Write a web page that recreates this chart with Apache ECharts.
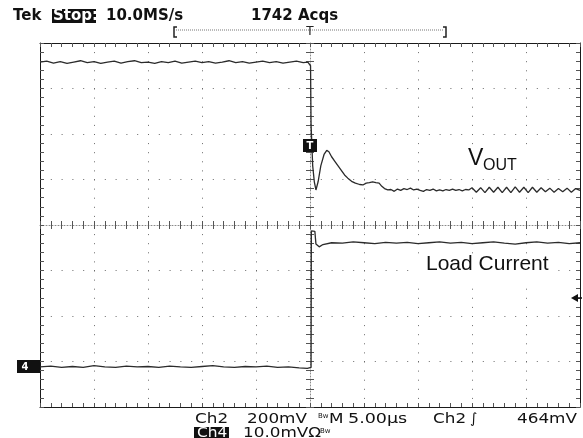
<!DOCTYPE html>
<html>
<head>
<meta charset="utf-8">
<script src="https://cdn.jsdelivr.net/npm/echarts@6.0.0/dist/echarts.min.js"></script>
<style>
    html, body { margin: 0; padding: 0; background: #fff; }
    #scope { width: 583px; height: 438px; }
</style>
</head>
<body>
<div id="scope"></div>
<script>
// time in divisions from trigger (5.00us/div), level in divisions from centre
var timeRange = [-5, 5];
var levelRange = [-4, 4];

// Ch2 : VOUT
var voutPoints = [
    [-5, 3.58], [-4.875, 3.60], [-4.75, 3.56], [-4.625, 3.59], [-4.5, 3.55], [-4.375, 3.58],
    [-4.25, 3.61], [-4.125, 3.57], [-4, 3.59], [-3.875, 3.55], [-3.75, 3.58], [-3.625, 3.60],
    [-3.5, 3.56], [-3.375, 3.59], [-3.25, 3.61], [-3.125, 3.57], [-3, 3.58], [-2.875, 3.55],
    [-2.75, 3.59], [-2.625, 3.57], [-2.5, 3.60], [-2.375, 3.56], [-2.25, 3.58], [-2.125, 3.60],
    [-2, 3.57], [-1.875, 3.59], [-1.75, 3.56], [-1.625, 3.58], [-1.5, 3.61], [-1.375, 3.57],
    [-1.25, 3.59], [-1.125, 3.56], [-1, 3.58], [-0.875, 3.60], [-0.75, 3.57], [-0.625, 3.59],
    [-0.5, 3.56], [-0.375, 3.58], [-0.25, 3.60], [-0.125, 3.57], [-0.04, 3.58],
    [0.01, 3.5], [0.02, 2.2], [0.05, 1.3], [0.08, 0.95], [0.11, 0.77], [0.15, 0.95],
    [0.2, 1.3], [0.26, 1.55], [0.31, 1.64], [0.35, 1.61], [0.4, 1.5], [0.46, 1.4],
    [0.52, 1.3], [0.58, 1.2], [0.64, 1.1], [0.7, 1.03], [0.77, 0.96], [0.84, 0.92],
    [0.92, 0.89], [0.98, 0.88], [1.04, 0.92], [1.1, 0.93], [1.16, 0.95], [1.22, 0.93],
    [1.28, 0.92], [1.33, 0.85], [1.38, 0.8], [1.44, 0.77], [1.5, 0.78], [1.56, 0.74],
    [1.62, 0.79], [1.68, 0.76], [1.74, 0.8], [1.8, 0.78], [1.86, 0.81], [1.92, 0.77],
    [1.98, 0.79], [2.04, 0.76], [2.1, 0.74], [2.16, 0.78], [2.22, 0.76], [2.28, 0.79],
    [2.34, 0.75], [2.4, 0.77], [2.46, 0.75], [2.52, 0.78], [2.58, 0.76], [2.64, 0.79],
    [2.7, 0.76], [2.76, 0.78], [2.82, 0.75], [2.88, 0.78], [2.94, 0.77],
    [3, 0.82], [3.08, 0.72], [3.16, 0.82], [3.24, 0.71], [3.32, 0.83], [3.4, 0.72],
    [3.48, 0.83], [3.56, 0.71], [3.64, 0.83], [3.72, 0.71], [3.8, 0.84], [3.88, 0.72],
    [3.96, 0.83], [4.04, 0.71], [4.12, 0.83], [4.2, 0.72], [4.28, 0.82], [4.36, 0.73],
    [4.44, 0.81], [4.52, 0.72], [4.6, 0.8], [4.68, 0.73], [4.76, 0.81], [4.84, 0.72],
    [4.92, 0.8], [5, 0.76]
];

// Ch4 : load current
var loadPoints = [
    [-5, -3.12], [-4.8, -3.10], [-4.6, -3.13], [-4.4, -3.11], [-4.2, -3.13], [-4, -3.09],
    [-3.8, -3.12], [-3.6, -3.13], [-3.4, -3.10], [-3.2, -3.12], [-3, -3.11], [-2.8, -3.13],
    [-2.6, -3.10], [-2.4, -3.12], [-2.2, -3.13], [-2, -3.11], [-1.8, -3.09], [-1.6, -3.12],
    [-1.4, -3.13], [-1.2, -3.11], [-1, -3.12], [-0.8, -3.10], [-0.6, -3.13], [-0.4, -3.12],
    [-0.2, -3.14], [-0.05, -3.15], [0.02, -3.13], [0.025, -0.13], [0.09, -0.14], [0.11, -0.42],
    [0.17, -0.48], [0.24, -0.43], [0.4, -0.39], [0.6, -0.40], [0.8, -0.37], [1, -0.39],
    [1.2, -0.41], [1.4, -0.38], [1.6, -0.40], [1.8, -0.38], [2, -0.41], [2.2, -0.39],
    [2.4, -0.37], [2.6, -0.40], [2.8, -0.38], [3, -0.41], [3.2, -0.39], [3.4, -0.37],
    [3.6, -0.40], [3.8, -0.42], [4, -0.39], [4.2, -0.37], [4.4, -0.40], [4.6, -0.38],
    [4.8, -0.41], [5, -0.39]
];

var traceColor = '#2b2b2b';
var font = '"DejaVu Sans", sans-serif';
var labelFont = '"Liberation Sans", Arial, sans-serif';

// one graticule axis; null zeroIndex keeps it on the frame edge
function makeAxis(range, position, zeroIndex, tickInside, lineType, splitDash) {
    return {
        type: 'value',
        position: position,
        min: range[0],
        max: range[1],
        interval: 1,
        axisLine: {
            show: lineType !== null,
            onZero: zeroIndex !== null,
            onZeroAxisIndex: zeroIndex === null ? undefined : zeroIndex,
            lineStyle: {
                color: lineType === 'solid' ? '#1a1a1a' : '#8a8a8a',
                width: 1,
                type: lineType || 'solid'
            }
        },
        axisTick: { show: true, inside: tickInside, length: 4, lineStyle: { color: '#555', width: 1 } },
        minorTick: { show: true, splitNumber: 5, length: 4, lineStyle: { color: '#555', width: 1 } },
        axisLabel: { show: false },
        splitLine: { show: !!splitDash, lineStyle: { color: '#6a6a6a', width: 1, type: splitDash || 'solid' } },
        minorSplitLine: { show: false }
    };
}

function txt(x, y, text, size, weight, color, sx) {
    return {
        type: 'text', x: x, y: y, scaleX: sx || 1, z: 10,
        style: {
            text: text, font: weight + ' ' + size + 'px ' + font,
            fill: color || '#111', textAlign: 'left', textVerticalAlign: 'middle'
        }
    };
}

var myChart = echarts.init(document.getElementById('scope'), null, { renderer: 'canvas' });

var option = {
    animation: false,
    backgroundColor: '#fff',
    grid: { left: 40, right: 3, top: 43, bottom: 31, containLabel: false, outerBoundsMode: 'none' },
    xAxis: [
        makeAxis(timeRange, 'bottom', 0, true, [1, 2], [1, 8.1]),
        makeAxis(timeRange, 'bottom', 1, false, null, null),
        makeAxis(timeRange, 'bottom', null, true, 'solid', null),
        makeAxis(timeRange, 'top', null, true, 'solid', null)
    ],
    yAxis: [
        makeAxis(levelRange, 'left', 0, true, [1, 2], [1, 9.8]),
        makeAxis(levelRange, 'left', 1, false, null, null),
        makeAxis(levelRange, 'left', null, true, 'solid', null),
        makeAxis(levelRange, 'right', null, true, 'solid', null)
    ],
    series: [
        {
            name: 'VOUT', type: 'line', xAxisIndex: 0, yAxisIndex: 0,
            data: voutPoints, showSymbol: false, z: 5,
            lineStyle: { color: traceColor, width: 1.3 }
        },
        {
            name: 'Load Current', type: 'line', xAxisIndex: 0, yAxisIndex: 0,
            data: loadPoints, showSymbol: false, z: 5,
            lineStyle: { color: traceColor, width: 1.3 }
        }
    ],
    graphic: [
        // header
        txt(13, 16, 'Tek', 15, 'bold'),
        { type: 'rect', shape: { x: 52, y: 9, width: 44, height: 14 }, style: { fill: '#111' }, z: 9 },
        txt(53, 16, 'Stop:', 15, 'bold', '#fff'),
        txt(106, 16, '10.0MS/s', 15, 'bold'),
        txt(251, 16, '1742 Acqs', 15, 'bold'),
        { type: 'polyline', shape: { points: [[177, 27], [174, 27], [174, 37], [177, 37]] }, style: { stroke: '#222', lineWidth: 1.5, fill: null }, z: 10 },
        { type: 'polyline', shape: { points: [[443, 27], [446, 27], [446, 37], [443, 37]] }, style: { stroke: '#222', lineWidth: 1.5, fill: null }, z: 10 },
        { type: 'line', shape: { x1: 176, y1: 30, x2: 444, y2: 30 }, style: { stroke: '#777', lineWidth: 1, lineDash: [1, 1] }, z: 10 },
        { type: 'text', x: 310, y: 32, z: 10, style: { text: 'T', font: '12px ' + font, fill: '#222', textAlign: 'center', textVerticalAlign: 'middle' } },

        // trace labels
        { type: 'rect', shape: { x: 462, y: 150, width: 65, height: 27 }, style: { fill: '#fff' }, z: 8 },
        { type: 'text', x: 468, y: 170, z: 10, style: { text: 'V', font: '23px ' + labelFont, fill: '#111', textVerticalAlign: 'bottom' } },
        { type: 'text', x: 483, y: 174, z: 10, style: { text: 'OUT', font: '16px ' + labelFont, fill: '#111', textVerticalAlign: 'bottom' } },
        { type: 'rect', shape: { x: 412, y: 255, width: 145, height: 27 }, style: { fill: '#fff' }, z: 8 },
        { type: 'text', x: 426, y: 275, z: 10, style: { text: 'Load Current', font: '21px ' + labelFont, fill: '#111', textVerticalAlign: 'bottom' } },

        // trigger / channel markers
        { type: 'rect', shape: { x: 303, y: 139, width: 14, height: 13 }, style: { fill: '#111' }, z: 11 },
        { type: 'text', x: 310, y: 146, z: 12, style: { text: 'T', font: 'bold 10px ' + font, fill: '#fff', textAlign: 'center', textVerticalAlign: 'middle' } },
        { type: 'rect', shape: { x: 17, y: 360, width: 23, height: 13 }, style: { fill: '#111' }, z: 11 },
        { type: 'text', x: 25, y: 367, z: 12, style: { text: '4', font: 'bold 10px ' + font, fill: '#fff', textAlign: 'center', textVerticalAlign: 'middle' } },
        { type: 'polygon', shape: { points: [[571, 298], [578, 294], [578, 302]] }, style: { fill: '#111' }, z: 11 },
        { type: 'line', shape: { x1: 577, y1: 298, x2: 582, y2: 298 }, style: { stroke: '#111', lineWidth: 1.5 }, z: 11 },

        // settings readout
        txt(195, 419, 'Ch2', 14, 'normal', '#111', 1.2),
        txt(247, 419, '200mV', 14, 'normal', '#111', 1.2),
        txt(318, 416, 'Bw', 7, 'normal', '#111', 1),
        txt(329, 419, 'M', 14, 'normal', '#111', 1.2),
        txt(348, 419, '5.00µs', 14, 'normal', '#111', 1.25),
        txt(433, 419, 'Ch2', 14, 'normal', '#111', 1.2),
        txt(470, 419, '∫', 14, 'normal', '#111', 1),
        txt(517, 419, '464mV', 14, 'normal', '#111', 1.2),
        { type: 'rect', shape: { x: 194, y: 427, width: 35, height: 12 }, style: { fill: '#111' }, z: 9 },
        txt(197, 433, 'Ch4', 14, 'normal', '#fff', 1.1),
        txt(243, 433, '10.0mVΩ', 14, 'normal', '#111', 1.2),
        txt(320, 431, 'Bw', 7, 'normal', '#111', 1)
    ]
};

myChart.setOption(option);
</script>
</body>
</html>
